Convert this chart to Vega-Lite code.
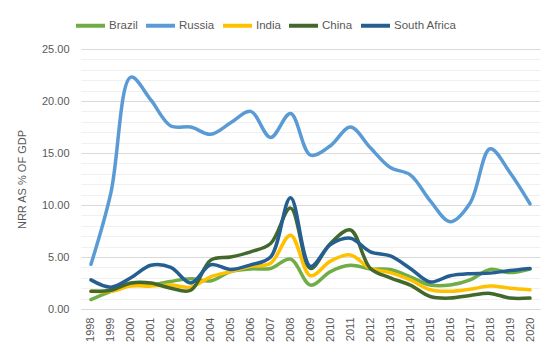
{
  "$schema": "https://vega.github.io/schema/vega-lite/v6.json",
  "autosize": "none",
  "width": 459,
  "height": 260,
  "padding": {"left": 81, "top": 49, "right": 17, "bottom": 46},
  "background": "white",
  "config": {
    "view": {"stroke": null},
    "font": "Liberation Sans"
  },
  "data": {
    "values": [
      {"year": "1998", "Brazil": 0.9, "Russia": 4.3, "India": 1.7, "China": 1.7, "South Africa": 2.8},
      {"year": "1999", "Brazil": 1.7, "Russia": 11.2, "India": 1.7, "China": 1.8, "South Africa": 2.1},
      {"year": "2000", "Brazil": 2.3, "Russia": 22.3, "India": 2.2, "China": 2.5, "South Africa": 3.0},
      {"year": "2001", "Brazil": 2.3, "Russia": 20.1, "India": 2.2, "China": 2.5, "South Africa": 4.2},
      {"year": "2002", "Brazil": 2.65, "Russia": 17.6, "India": 2.3, "China": 2.0, "South Africa": 4.0},
      {"year": "2003", "Brazil": 2.9, "Russia": 17.5, "India": 2.1, "China": 1.8, "South Africa": 2.5},
      {"year": "2004", "Brazil": 2.7, "Russia": 16.8, "India": 3.1, "China": 4.7, "South Africa": 4.25},
      {"year": "2005", "Brazil": 3.6, "Russia": 17.9, "India": 3.6, "China": 5.0, "South Africa": 3.8},
      {"year": "2006", "Brazil": 3.85, "Russia": 19.0, "India": 4.1, "China": 5.5, "South Africa": 4.25},
      {"year": "2007", "Brazil": 3.9, "Russia": 16.5, "India": 4.4, "China": 6.3, "South Africa": 5.0},
      {"year": "2008", "Brazil": 4.8, "Russia": 18.8, "India": 7.1, "China": 9.7, "South Africa": 10.7},
      {"year": "2009", "Brazil": 2.3, "Russia": 14.8, "India": 3.2, "China": 3.9, "South Africa": 4.1},
      {"year": "2010", "Brazil": 3.6, "Russia": 15.7, "India": 4.6, "China": 6.3, "South Africa": 6.2},
      {"year": "2011", "Brazil": 4.2, "Russia": 17.5, "India": 5.2, "China": 7.6, "South Africa": 6.8},
      {"year": "2012", "Brazil": 3.85, "Russia": 15.5, "India": 3.9, "China": 3.9, "South Africa": 5.5},
      {"year": "2013", "Brazil": 3.8, "Russia": 13.6, "India": 3.5, "China": 3.0, "South Africa": 5.1},
      {"year": "2014", "Brazil": 3.1, "Russia": 12.9, "India": 2.8, "China": 2.3, "South Africa": 3.9},
      {"year": "2015", "Brazil": 2.3, "Russia": 10.4, "India": 1.85, "China": 1.2, "South Africa": 2.6},
      {"year": "2016", "Brazil": 2.3, "Russia": 8.4, "India": 1.7, "China": 1.05, "South Africa": 3.2},
      {"year": "2017", "Brazil": 2.8, "Russia": 10.2, "India": 1.9, "China": 1.3, "South Africa": 3.4},
      {"year": "2018", "Brazil": 3.8, "Russia": 15.4, "India": 2.2, "China": 1.5, "South Africa": 3.45},
      {"year": "2019", "Brazil": 3.5, "Russia": 13.1, "India": 2.0, "China": 1.05, "South Africa": 3.7},
      {"year": "2020", "Brazil": 3.85, "Russia": 10.1, "India": 1.85, "China": 1.05, "South Africa": 3.9}
    ]
  },
  "transform": [
    {"fold": ["Brazil", "Russia", "India", "China", "South Africa"], "as": ["country", "value"]}
  ],
  "mark": {"type": "line", "interpolate": "catmull-rom", "strokeWidth": 3.5, "strokeCap": "round", "strokeJoin": "round"},
  "encoding": {
    "x": {
      "field": "year", "type": "ordinal",
      "scale": {"type": "point", "padding": 0.5},
      "axis": {
        "title": null, "labelAngle": 270, "labelFontSize": 11, "labelColor": "#595959",
        "labelPadding": 8, "ticks": false, "domain": true, "domainColor": "#d9d9d9", "grid": false
      }
    },
    "y": {
      "field": "value", "type": "quantitative",
      "scale": {"domain": [0, 25], "nice": false},
      "axis": {
        "title": "NRR AS % OF GDP", "titleFontSize": 11, "titleFontWeight": "normal", "titleColor": "#595959",
        "titlePadding": 14,
        "values": [0,1,2,3,4,5,6,7,8,9,10,11,12,13,14,15,16,17,18,19,20,21,22,23,24,25],
        "labelExpr": "datum.value % 5 === 0 ? format(datum.value, '.2f') : ''",
        "labelOverlap": false, "labelFontSize": 11, "labelColor": "#595959", "labelPadding": 12,
        "ticks": false, "domain": false,
        "gridColor": {"condition": {"test": "datum.value % 5 === 0", "value": "#d9d9d9"}, "value": "#f0f0f0"},
        "gridWidth": 1
      }
    },
    "color": {
      "field": "country", "type": "nominal",
      "scale": {
        "domain": ["Brazil", "Russia", "India", "China", "South Africa"],
        "range": ["#70AD47", "#5B9BD5", "#FFC000", "#43682B", "#255E91"]
      },
      "legend": {
        "title": null, "orient": "none", "direction": "horizontal",
        "legendX": -7, "legendY": -40, "padding": 0,
        "symbolType": "stroke", "symbolStrokeWidth": 4, "symbolSize": 841,
        "labelFontSize": 11.5, "labelColor": "#595959",
        "labelOffset": 2, "columnPadding": 0
      }
    }
  }
}
